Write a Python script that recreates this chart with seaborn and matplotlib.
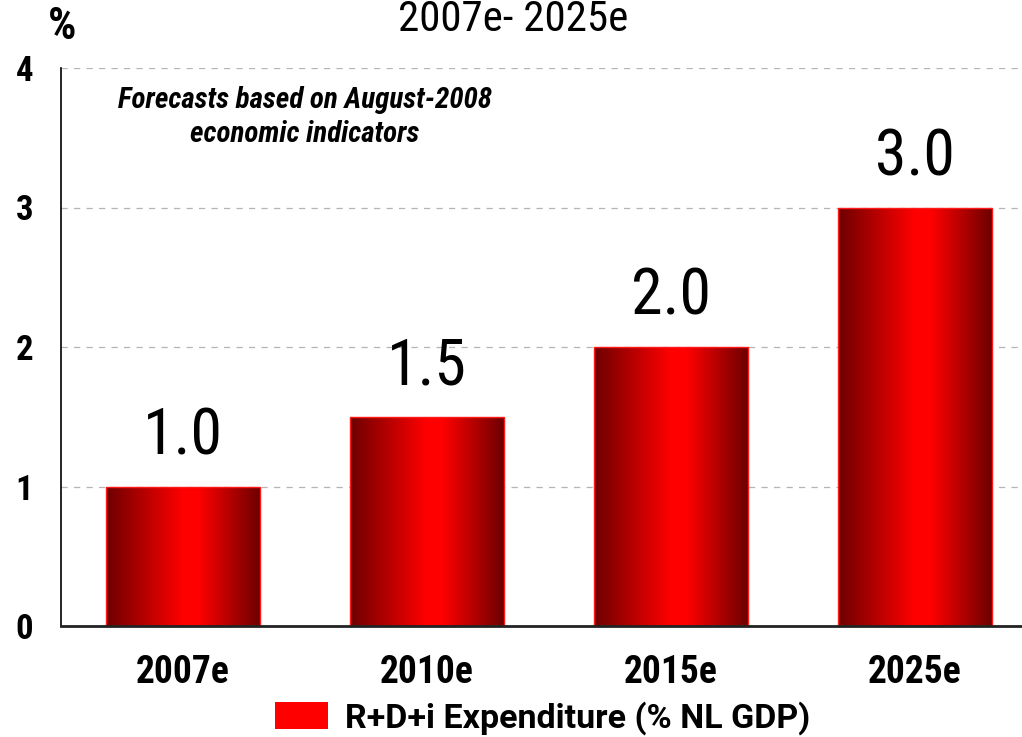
import numpy as np
import matplotlib
matplotlib.use("Agg")
import matplotlib.pyplot as plt
from matplotlib.colors import LinearSegmentedColormap
from matplotlib.patches import Patch
import seaborn as sns

# DATA
years = ["2007e", "2010e", "2015e", "2025e"]
values = [1.0, 1.5, 2.0, 3.0]
y_ticks = [0, 1, 2, 3, 4]
title_text = "2007e- 2025e"
note_text = "Forecasts based on August-2008\neconomic indicators"
legend_label = "R+D+i Expenditure (% NL GDP)"

narrow = ["Roboto Condensed", "DejaVu Sans"]
wide = ["Roboto", "DejaVu Sans"]

sns.set_style("white")
plt.rcParams["font.family"] = narrow
plt.rcParams["text.color"] = "black"
plt.rcParams["xtick.color"] = "black"
plt.rcParams["ytick.color"] = "black"

fig = plt.figure(figsize=(10.22, 7.37), dpi=100)
ax = fig.add_axes([61 / 1022, 1 - 626 / 737, 1 - 61 / 1022, (626 - 68) / 737])

sns.barplot(x=years, y=values, color="red", width=0.63, ax=ax,
            edgecolor="#ff1a1a", linewidth=1.0, saturation=1)

# horizontal gradient fill inside each bar
grad = LinearSegmentedColormap.from_list(
    "bar", [(0.0, "#6e0000"), (0.5, "#ff0000"), (0.6, "#ff0000"), (1.0, "#6e0000")])
g = np.linspace(0, 1, 256).reshape(1, -1)
for p in ax.patches:
    x0, y0 = p.get_x(), p.get_y()
    w, h = p.get_width(), p.get_height()
    p.set_facecolor("none")
    im = ax.imshow(g, cmap=grad, aspect="auto", extent=(x0, x0 + w, y0, y0 + h),
                   zorder=p.get_zorder() - 0.1, interpolation="bilinear")
    im.set_clip_path(p)

ax.set_xlim(-0.5, 3.44)
ax.set_ylim(0, 4)
ax.set_yticks(y_ticks)
ax.set_xticks(np.arange(len(years)) - 0.5, minor=False)
ax.set_xticklabels([])
ax.set_xticks(np.arange(len(years)), minor=True)
ax.set_xticklabels(years, minor=True)
ax.set_xlabel("")
ax.set_ylabel("")

ax.yaxis.grid(True, linestyle=(0, (5, 5)), color="#b4b4b4", linewidth=0.9)
ax.set_axisbelow(True)
for s in ["top", "right"]:
    ax.spines[s].set_visible(False)
ax.spines["left"].set_color("black")
ax.spines["left"].set_linewidth(1.2)
ax.spines["bottom"].set_color("#222222")
ax.spines["bottom"].set_linewidth(2.0)

ax.tick_params(axis="x", which="major", direction="inout", length=21, width=1.2, color="black")
ax.tick_params(axis="x", which="minor", length=0, pad=20, labelsize=27)
ax.tick_params(axis="y", direction="out", length=10, width=1.2, color="black",
               pad=10, labelsize=25)
for lab in ax.get_xticklabels(minor=True) + ax.get_yticklabels():
    lab.set_fontweight("bold")

for i, v in enumerate(values):
    ax.text(i, v + 0.23, f"{v:.1f}", ha="center", va="baseline", fontsize=46)

fig.text(513 / 1022, 1 - 31 / 737, title_text, ha="center", va="baseline", fontsize=31)
fig.text(62 / 1022, 1 - 27 / 737, "%", ha="center", va="center", fontsize=32,
         fontweight="bold")
fig.text(305 / 1022, 1 - 117 / 737, note_text, ha="center", va="center", fontsize=21,
         fontweight="bold", fontstyle="italic", linespacing=1.3)

handle = Patch(facecolor="#ff0000", edgecolor="none", label=legend_label)
leg = fig.legend(handles=[handle], loc="center", bbox_to_anchor=(543 / 1022, 1 - 718 / 737),
                 frameon=False, handlelength=1.55, handleheight=0.85, handletextpad=0.5,
                 prop={"family": wide, "weight": "bold", "size": 24.5})

fig.savefig("out.png", dpi=100)
